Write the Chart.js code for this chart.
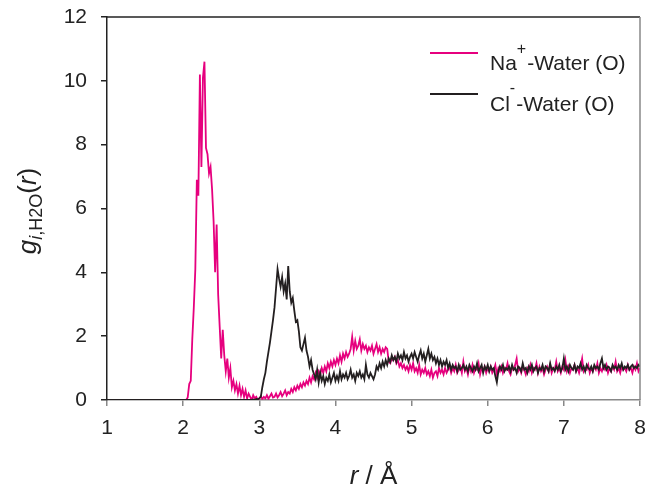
<!DOCTYPE html>
<html>
<head>
<meta charset="utf-8">
<script src="https://cdn.jsdelivr.net/npm/chart.js"></script>
<style>
body{margin:0;background:#fff;}
#wrap{width:646px;height:487px;position:relative;}
</style>
</head>
<body>
<div id="wrap"><canvas id="chart"></canvas></div>
<script>
// radial distribution functions, r in Angstrom, sampled every 0.02
const rStep = 0.02;
const naStart = 2.0;
const clStart = 2.9;

// Na+ - Water (O), r = 2.00 ... 8.00
const naG = [
0, 0, 0, 0.08, 0.5, 0.6, 1.9, 2.9, 4.1, 6.9,
6.4, 10.2, 7.3, 10.1, 10.6, 7.9, 7.7, 7.1, 7.3, 6.6,
5.6, 4.0, 5.5, 3.3, 2.3, 1.3, 2.2, 1.4, 0.9, 1.3,
0.7, 1.0, 0.4, 0.6, 0.3, 0.5, 0.2, 0.45, 0.15, 0.35,
0.1, 0.3, 0.05, 0.2, 0.1, 0.0, 0.15, 0.05, 0.1, 0.0,
0.05, 0.12, 0.03, 0.1, 0.05, 0.15, 0.04, 0.12, 0.2, 0.08,
0.1, 0.2, 0.08, 0.15, 0.25, 0.12, 0.2, 0.3, 0.15, 0.25,
0.2, 0.35, 0.25, 0.4, 0.3, 0.45, 0.35, 0.5, 0.4, 0.55,
0.45, 0.6, 0.5, 0.7, 0.55, 0.75, 0.65, 0.85, 0.7, 0.9,
0.8, 1.0, 0.85, 1.05, 0.9, 1.15, 1.0, 1.2, 1.05, 1.25,
1.1, 1.3, 1.15, 1.4, 1.2, 1.45, 1.3, 1.5, 1.35, 1.45,
1.6, 1.98, 1.55, 1.85, 1.6, 1.7, 1.9, 1.55, 1.75, 1.6,
1.7, 1.5, 1.65, 1.55, 1.7, 1.45, 1.6, 1.75, 1.5, 1.65,
1.45, 1.6, 1.5, 1.65, 1.6, 1.2, 1.15, 1.3, 1.25, 1.35,
1.15, 1.25, 1.05, 1.15, 1.0, 1.1, 0.95, 1.05, 0.9, 1.1,
0.95, 1.15, 0.9, 1.0, 0.85, 1.1, 0.8, 0.95, 0.85, 1.0,
0.8, 0.9, 0.75, 0.95, 0.7, 0.85, 0.9, 0.75, 1.0, 0.85,
0.95, 0.8, 1.0, 0.85, 0.95, 1.05, 0.85, 1.0, 0.9, 1.1,
0.85, 0.95, 1.05, 0.85, 1.2, 0.9, 1.0, 0.8, 1.05, 0.9,
1.1, 0.85, 1.0, 0.95, 1.15, 0.8, 1.0, 0.9, 1.05, 0.85,
1.0, 0.9, 1.05, 0.85, 0.95, 1.1, 0.8, 1.0, 0.9, 1.05,
0.85, 1.0, 0.95, 1.15, 0.9, 0.8, 1.0, 0.95, 1.1, 1.3,
0.9, 1.0, 0.85, 1.05, 0.95, 0.8, 1.0, 0.9, 1.1, 0.85,
1.0, 0.95, 1.15, 0.85, 1.05, 0.9, 1.0, 0.8, 0.95, 1.05,
0.9, 1.1, 0.85, 1.0, 0.95, 1.2, 0.9, 1.0, 0.85, 1.05,
0.95, 1.25, 0.9, 1.05, 0.85, 1.0, 0.95, 1.1, 0.9, 1.0,
0.85, 1.05, 1.3, 0.9, 1.0, 0.95, 1.1, 0.85, 1.0, 0.9,
1.05, 0.95, 1.15, 0.85, 1.0, 0.9, 1.05, 0.95, 1.1, 0.85,
1.0, 0.9, 1.05, 0.95, 1.2, 0.9, 1.0, 0.85, 1.05, 0.95,
1.0, 0.9, 1.1, 0.95, 1.0, 0.85, 1.05, 0.95, 1.15, 0.9,
1.0
];

// Cl- - Water (O), r = 2.90 ... 8.00
const clG = [
0, 0.02, 0, 0.03, 0.02, 0.05, 0.1, 0.4, 0.65, 0.85,
1.2, 1.5, 1.8, 2.15, 2.5, 2.9, 3.5, 4.1, 3.8, 3.55,
3.85, 3.4, 3.65, 3.15, 4.2, 3.4, 3.05, 3.2, 2.8, 2.45,
2.5, 2.15, 1.65, 1.55, 1.75, 1.95, 1.55, 1.35, 1.05, 1.25,
0.95, 0.8, 0.65, 0.95, 0.55, 0.85, 0.6, 0.75, 0.5, 0.7,
0.6, 0.8, 0.55, 0.7, 0.85, 0.6, 0.75, 0.6, 0.9, 0.65,
0.8, 0.7, 0.85, 0.65, 0.75, 0.95, 0.7, 0.8, 0.6, 0.85,
0.75, 0.9, 0.7, 0.8, 0.65, 1.1, 0.8, 0.7, 0.85, 0.75,
0.65, 0.8, 1.05, 0.95, 1.15, 1.0, 1.2, 1.05, 1.25, 1.1,
1.3, 1.2, 1.4, 1.25, 1.35, 1.2, 1.45, 1.3, 1.4, 1.25,
1.5, 1.3, 1.4, 1.2, 1.35, 1.45, 1.3, 1.5, 1.35, 1.2,
1.4, 1.55, 1.3, 1.45, 1.2, 1.4, 1.6, 1.3, 1.45, 1.25,
1.35, 1.15, 1.3, 1.1, 1.25, 1.05, 1.2, 1.1, 1.25, 1.0,
1.15, 0.95, 1.1, 1.0, 1.05, 0.9, 1.1, 0.95, 1.0, 1.1,
0.95, 1.05, 0.9, 1.1, 1.0, 0.9, 1.05, 0.95, 1.15, 0.9,
1.0, 1.1, 0.85, 1.05, 0.95, 1.1, 0.9, 1.05, 0.95, 1.0,
0.75, 0.55, 0.9, 1.05, 0.95, 1.1, 0.9, 1.0, 0.95, 1.05,
0.9, 1.1, 0.95, 1.0, 0.85, 1.05, 1.0, 0.9, 1.15, 0.95,
1.0, 0.85, 1.05, 0.95, 1.1, 0.9, 1.0, 1.05, 0.85, 1.0,
0.95, 1.1, 0.9, 1.05, 1.0, 0.9, 1.15, 0.95, 1.0, 0.9,
1.05, 0.95, 1.1, 0.9, 1.0, 1.3, 0.95, 1.05, 0.9, 1.1,
1.0, 0.95, 1.1, 0.9, 1.05, 1.0, 1.15, 0.95, 1.05, 0.9,
1.1, 1.0, 0.95, 1.05, 0.9, 1.1, 1.0, 1.05, 0.95, 1.15,
1.3, 1.0, 1.1, 0.95, 1.05, 1.0, 0.9, 1.1, 1.0, 1.05,
0.95, 1.1, 1.0, 1.15, 0.95, 1.05, 1.0, 1.1, 0.95, 1.05,
1.1, 1.0, 1.05, 1.0, 1.1, 1.05
];

const xMin = 1, xMax = 8, xStep = 1;
const yMin = 0, yMax = 12, yStep = 2;

const naColor = "#e6007e";
const clColor = "#231f20";
const FONT = "'Liberation Sans', Arial, sans-serif";

function toPoints(start, values){
  // curve is flat zero from r = 1 up to where the sampled data begins
  return [{x: xMin, y: 0}].concat(values.map((g, i) => ({x: +(start + i * rStep).toFixed(2), y: g})));
}

const extras = {
  id: "extras",
  afterDraw(chart){
    const ctx = chart.ctx;
    const a = chart.chartArea;
    ctx.save();

    // top and right frame
    ctx.lineWidth = 1.5;
    ctx.strokeStyle = "#222";
    ctx.beginPath(); ctx.moveTo(a.left, a.top); ctx.lineTo(a.right, a.top); ctx.stroke();
    ctx.strokeStyle = "#888";
    ctx.beginPath(); ctx.moveTo(a.right, a.top); ctx.lineTo(a.right, a.bottom); ctx.stroke();

    ctx.fillStyle = "#222";
    ctx.textBaseline = "alphabetic";

    // x title: r / Å
    const xt = [["italic 26px " + FONT, "r"], ["26px " + FONT, " / Å"]];
    let w = 0;
    xt.forEach(s => { ctx.font = s[0]; w += ctx.measureText(s[1]).width; });
    let x = (a.left + a.right) / 2 - w / 2;
    xt.forEach(s => { ctx.font = s[0]; ctx.fillText(s[1], x, 484); x += ctx.measureText(s[1]).width; });

    // y title: g_{i,H2O}(r)
    const yt = [
      ["italic 26px " + FONT, "g", 0],
      ["italic 18px " + FONT, "i", 6],
      ["18px " + FONT, ",H2O", 6],
      ["26px " + FONT, "(", 0],
      ["italic 26px " + FONT, "r", 0],
      ["26px " + FONT, ")", 0]
    ];
    w = 0;
    yt.forEach(s => { ctx.font = s[0]; w += ctx.measureText(s[1]).width; });
    ctx.save();
    ctx.translate(36, 211);
    ctx.rotate(-Math.PI / 2);
    x = -w / 2;
    yt.forEach(s => { ctx.font = s[0]; ctx.fillText(s[1], x, s[2]); x += ctx.measureText(s[1]).width; });
    ctx.restore();

    // legend
    const rows = [
      {color: naColor, y: 53, base: 70, name: "Na", sup: "+", supBase: 54},
      {color: clColor, y: 94, base: 111, name: "Cl", sup: "-", supBase: 93}
    ];
    rows.forEach(r => {
      ctx.strokeStyle = r.color;
      ctx.lineWidth = 2;
      ctx.beginPath(); ctx.moveTo(430, r.y); ctx.lineTo(478, r.y); ctx.stroke();
      ctx.fillStyle = "#222";
      ctx.font = "21px " + FONT;
      let lx = 490;
      ctx.fillText(r.name, lx, r.base);
      lx += ctx.measureText(r.name).width;
      ctx.font = "16px " + FONT;
      ctx.fillText(r.sup, lx, r.supBase);
      lx += ctx.measureText(r.sup).width + 1;
      ctx.font = "21px " + FONT;
      ctx.fillText("-Water (O)", lx, r.base);
    });

    ctx.restore();
  }
};

new Chart(document.getElementById("chart"), {
  type: "line",
  data: {
    datasets: [
      {label: "Cl- Water (O)", data: toPoints(clStart, clG), borderColor: clColor, borderWidth: 1.8, pointRadius: 0, tension: 0},
      {label: "Na+ Water (O)", data: toPoints(naStart, naG), borderColor: naColor, borderWidth: 1.8, pointRadius: 0, tension: 0}
    ]
  },
  options: {
    responsive: true,
    maintainAspectRatio: false,
    animation: false,
    layout: {padding: {top: 17, right: 6, left: 0, bottom: 0}},
    plugins: {legend: {display: false}, tooltip: {enabled: false}},
    scales: {
      x: {
        type: "linear",
        min: xMin, max: xMax,
        afterFit(s){ s.height = 87; s.paddingLeft = 0; s.paddingRight = 0; },
        ticks: {stepSize: xStep, color: "#222", padding: 10, font: {family: FONT, size: 21}},
        grid: {drawOnChartArea: false, drawTicks: true, tickLength: 6, color: "#888", lineWidth: 1.5},
        border: {color: "#888", width: 1.5}
      },
      y: {
        min: yMin, max: yMax,
        afterFit(s){ s.width = 107; s.paddingTop = 0; s.paddingBottom = 0; },
        ticks: {stepSize: yStep, color: "#222", padding: 14, font: {family: FONT, size: 21}},
        grid: {drawOnChartArea: false, drawTicks: true, tickLength: 6, color: "#222", lineWidth: 1.5},
        border: {color: "#222", width: 1.5}
      }
    }
  },
  plugins: [extras]
});
</script>
</body>
</html>
